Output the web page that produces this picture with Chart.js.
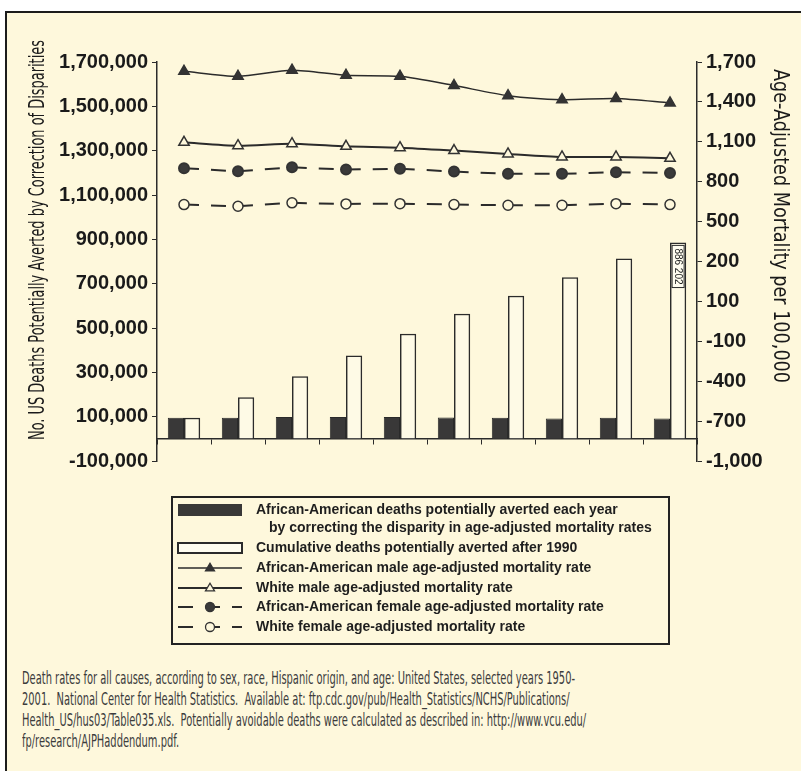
<!DOCTYPE html>
<html>
<head>
<meta charset="utf-8">
<script src="https://cdn.jsdelivr.net/npm/chart.js@4.4.1/dist/chart.umd.min.js"></script>
<style>
  html, body { margin: 0; padding: 0; background: #fff; }
  body { width: 801px; height: 771px; position: relative; overflow: hidden; }
  #frame { position: absolute; left: 5px; top: 11px; width: 796px; height: 760px; background: #fef8dc;
           border-top: 2px solid #1c1c1c; border-left: 2px solid #1c1c1c; box-sizing: border-box; }
  #wrap { position: absolute; left: 0; top: 0; width: 801px; height: 660px; }
  #note { position: absolute; left: 22px; top: 668px; font-family: "Liberation Sans Narrow", "DejaVu Sans Condensed", sans-serif;
          font-size: 17px; line-height: 21px; color: #3c3c3c; }
  #note div { white-space: pre; width: max-content; transform-origin: 0 50%; }
</style>
</head>
<body>
<div id="frame"></div>
<div id="wrap"><canvas id="chart"></canvas></div>
<div id="note">
<div>Death rates for all causes, according to sex, race, Hispanic origin, and age: United States, selected years 1950-</div>
<div>2001.  National Center for Health Statistics.  Available at: ftp.cdc.gov/pub/Health_Statistics/NCHS/Publications/</div>
<div>Health_US/hus03/Table035.xls.  Potentially avoidable deaths were calculated as described in: http://www.vcu.edu/</div>
<div>fp/research/AJPHaddendum.pdf.</div>
</div>
<script>
// years after 1990 (no labels printed on the x axis)
var years = ["1991", "1992", "1993", "1994", "1995", "1996", "1997", "1998", "1999", "2000"];

var annualAverted = [95000, 95000, 98000, 98000, 98000, 96000, 95000, 92000, 95000, 92000];
var cumulativeAverted = [95000, 188000, 282000, 376000, 474000, 564000, 646000, 729000, 813000, 886202];

var aaMaleRate = [1630, 1592, 1638, 1600, 1592, 1523, 1447, 1417, 1425, 1392];
var whiteMaleRate = [1096, 1071, 1086, 1066, 1056, 1034, 1009, 986, 986, 976];
var aaFemaleRate = [901, 878, 908, 891, 898, 876, 859, 859, 871, 866];
var whiteFemaleRate = [628, 615, 641, 633, 635, 628, 623, 623, 635, 628];

// right axis labels as printed (top to bottom)
var rightTickLabels = ["1,700", "1,400", "1,100", "800", "500", "200", "100", "-100", "-400", "-700", "-1,000"];

var leftTitle = "No. US Deaths Potentially Averted by Correction of Disparities";
var rightTitle = "Age-Adjusted Mortality per 100,000";

var ink = "#2b2b2b";
var cream = "#fef8dc";
var tickFont = { family: "Liberation Sans", size: 20, weight: "bold" };

function drawMarker(ctx, style, x, y, r, fill, stroke) {
  ctx.fillStyle = fill;
  ctx.strokeStyle = stroke;
  ctx.lineWidth = 1.3;
  ctx.setLineDash([]);
  ctx.beginPath();
  if (style === "triangle") {
    var h = r * 1.7;
    ctx.moveTo(x, y - h * 0.62);
    ctx.lineTo(x + r, y + h * 0.38);
    ctx.lineTo(x - r, y + h * 0.38);
    ctx.closePath();
  } else {
    ctx.arc(x, y, r, 0, Math.PI * 2);
  }
  ctx.fill();
  ctx.stroke();
}

function fitText(ctx, text, x, y, angle, font, length) {
  ctx.save();
  ctx.font = font;
  var w = ctx.measureText(text).width;
  ctx.translate(x, y);
  ctx.rotate(angle);
  ctx.scale(length / w, 1);
  ctx.textAlign = "center";
  ctx.textBaseline = "middle";
  ctx.fillStyle = "#1a1a1a";
  ctx.fillText(text, 0, 0);
  ctx.restore();
}

var extras = {
  id: "extras",
  afterDraw: function (chart) {
    var ctx = chart.ctx;

    // axis titles
    fitText(ctx, leftTitle, 38, 240, -Math.PI / 2, "22px 'Liberation Sans Narrow', 'DejaVu Sans Condensed'", 400);
    fitText(ctx, rightTitle, 780, 226, Math.PI / 2, "22px 'Liberation Sans Narrow', 'DejaVu Sans Condensed'", 314);

    // value written in the last cumulative bar
    var meta = chart.getDatasetMeta(1);
    var bar = meta.data[meta.data.length - 1];
    var txt = cumulativeAverted[cumulativeAverted.length - 1].toLocaleString("en-US").replace(/,/g, " ");
    ctx.save();
    ctx.translate(bar.x, bar.y + 3);
    ctx.rotate(Math.PI / 2);
    ctx.font = "10px 'Liberation Sans'";
    var tw = ctx.measureText(txt).width;
    ctx.fillStyle = "#fffdf0";
    ctx.fillRect(0, -6, tw + 6, 12);
    ctx.strokeStyle = ink;
    ctx.lineWidth = 1;
    ctx.strokeRect(0, -6, tw + 6, 12);
    ctx.fillStyle = "#222";
    ctx.textBaseline = "middle";
    ctx.fillText(txt, 3, 0.5);
    ctx.restore();

    // legend box
    var rowY = [510, 548, 568, 588, 607, 627];
    var x0 = 178, x1 = 242, xm = 210;
    ctx.save();
    ctx.lineWidth = 2;
    ctx.strokeStyle = "#222";
    ctx.strokeRect(172, 497, 497, 147);
    chart.data.datasets.forEach(function (ds, i) {
      var y = rowY[i];
      if (ds.type === "bar") {
        ctx.fillStyle = ds.backgroundColor;
        if (i === 0) {
          ctx.fillRect(x0, y - 6, x1 - x0, 12);
        } else {
          ctx.fillStyle = "#fffdf0";
          ctx.fillRect(x0, y - 5, x1 - x0, 10);
          ctx.lineWidth = 2;
          ctx.strokeStyle = ink;
          ctx.strokeRect(x0, y - 5, x1 - x0, 10);
        }
      } else {
        ctx.setLineDash(ds.borderDash || []);
        ctx.lineWidth = ds.borderWidth;
        ctx.strokeStyle = ds.borderColor;
        ctx.beginPath();
        ctx.moveTo(x0, y);
        ctx.lineTo(x1, y);
        ctx.stroke();
        drawMarker(ctx, ds.pointStyle, xm, y, 4.5, ds.pointBackgroundColor, ds.pointBorderColor);
      }
      var lines = ds.label.split("\n");
      ctx.fillStyle = "#1e1e1e";
      ctx.font = "bold 14px 'Liberation Sans'";
      ctx.textAlign = "left";
      ctx.textBaseline = "middle";
      ctx.fillText(lines[0], 256, y);
      if (lines[1]) ctx.fillText(lines[1], 269, y + 18);
    });
    ctx.restore();
  }
};

var ctx = document.getElementById("chart").getContext("2d");
var mortalityChart = new Chart(ctx, {
  type: "bar",
  data: {
    labels: years,
    datasets: [
      {
        type: "bar",
        label: "African-American deaths potentially averted each year\nby correcting the disparity in age-adjusted mortality rates",
        data: annualAverted,
        yAxisID: "y",
        backgroundColor: "#393838",
        borderColor: "#2a2a2a",
        borderWidth: 1,
        categoryPercentage: 0.6,
        barPercentage: 1,
        order: 2
      },
      {
        type: "bar",
        label: "Cumulative deaths potentially averted after 1990",
        data: cumulativeAverted,
        yAxisID: "y",
        backgroundColor: "rgba(255,255,255,0.3)",
        borderColor: ink,
        borderWidth: 1.5,
        categoryPercentage: 0.6,
        barPercentage: 1,
        order: 2
      },
      {
        type: "line",
        label: "African-American male age-adjusted mortality rate",
        data: aaMaleRate,
        yAxisID: "y1",
        borderColor: ink,
        borderWidth: 1.5,
        tension: 0.25,
        pointStyle: "triangle",
        pointRadius: 6,
        pointBackgroundColor: "#333",
        pointBorderColor: "#333",
        order: 1
      },
      {
        type: "line",
        label: "White male age-adjusted mortality rate",
        data: whiteMaleRate,
        yAxisID: "y1",
        borderColor: ink,
        borderWidth: 2,
        tension: 0.25,
        pointStyle: "triangle",
        pointRadius: 6,
        pointBorderWidth: 1.5,
        pointBackgroundColor: cream,
        pointBorderColor: "#333",
        order: 1
      },
      {
        type: "line",
        label: "African-American female age-adjusted mortality rate",
        data: aaFemaleRate,
        yAxisID: "y1",
        borderColor: ink,
        borderWidth: 2,
        borderDash: [15, 12],
        tension: 0,
        pointStyle: "circle",
        pointRadius: 5,
        pointBackgroundColor: "#3a3a3a",
        pointBorderColor: "#333",
        order: 1
      },
      {
        type: "line",
        label: "White female age-adjusted mortality rate",
        data: whiteFemaleRate,
        yAxisID: "y1",
        borderColor: ink,
        borderWidth: 2,
        borderDash: [15, 12],
        tension: 0,
        pointStyle: "circle",
        pointRadius: 5,
        pointBorderWidth: 1.5,
        pointBackgroundColor: cream,
        pointBorderColor: "#333",
        order: 1
      }
    ]
  },
  options: {
    responsive: true,
    maintainAspectRatio: false,
    animation: false,
    layout: { padding: { top: 62, bottom: 199, left: 0, right: 0 } },
    plugins: {
      legend: { display: false },
      tooltip: { enabled: false }
    },
    scales: {
      x: {
        position: { y: 0 },
        offset: true,
        ticks: { display: false },
        grid: { drawOnChartArea: false, offset: true, color: ink, tickLength: 5, lineWidth: 1 },
        border: { display: true, color: ink, width: 1.5 }
      },
      y: {
        position: "left",
        min: -100000,
        max: 1700000,
        ticks: {
          stepSize: 200000,
          font: tickFont,
          color: "#1a1a1a",
          padding: 4,
          callback: function (value) { return value.toLocaleString("en-US"); }
        },
        grid: { drawOnChartArea: false, color: ink, tickLength: 5 },
        border: { display: true, color: ink, width: 1.5 },
        afterFit: function (scale) { scale.width = 157; }
      },
      y1: {
        position: "right",
        min: -1300,
        max: 1700,
        ticks: {
          stepSize: 300,
          font: tickFont,
          color: "#1a1a1a",
          padding: 4,
          callback: function (value, index, ticks) { return rightTickLabels[ticks.length - 1 - index]; }
        },
        grid: { drawOnChartArea: false, color: ink, tickLength: 5 },
        border: { display: true, color: ink, width: 1.5 },
        afterFit: function (scale) { scale.width = 104; }
      }
    }
  },
  plugins: [extras]
});

// squeeze the footnote lines to the condensed width of the original
var noteLines = document.querySelectorAll("#note div");
var squeeze = 553 / noteLines[0].getBoundingClientRect().width;
for (var i = 0; i < noteLines.length; i++) {
  noteLines[i].style.transform = "scaleX(" + squeeze + ")";
}
</script>
</body>
</html>
